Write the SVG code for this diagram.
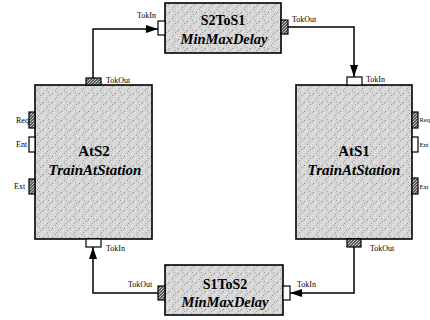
<svg xmlns="http://www.w3.org/2000/svg" width="430" height="320" viewBox="0 0 430 320">
<defs>
<pattern id="tex" width="9" height="9" patternUnits="userSpaceOnUse">
<rect width="9" height="9" fill="#d6d6d6"/>
<rect x="1" y="0" width="1" height="1" fill="#9a9a9a"/>
<rect x="5" y="1" width="1" height="1" fill="#f2f2f2"/>
<rect x="3" y="2" width="1" height="1" fill="#a4a4a4"/>
<rect x="7" y="3" width="1" height="1" fill="#8e8e8e"/>
<rect x="0" y="4" width="1" height="1" fill="#f4f4f4"/>
<rect x="4" y="5" width="1" height="1" fill="#9c9c9c"/>
<rect x="8" y="6" width="1" height="1" fill="#f0f0f0"/>
<rect x="2" y="7" width="1" height="1" fill="#a0a0a0"/>
<rect x="6" y="8" width="1" height="1" fill="#ececec"/>
<rect x="6" y="4" width="1" height="1" fill="#b0b0b0"/>
</pattern>
<pattern id="hatch" width="3" height="3" patternUnits="userSpaceOnUse">
<rect width="3" height="3" fill="#5a5a5a"/>
<rect x="0" y="0" width="1" height="1" fill="#cfcfcf"/>
<rect x="2" y="1" width="1" height="1" fill="#cfcfcf"/>
<rect x="1" y="2" width="1" height="1" fill="#bdbdbd"/>
</pattern>
<marker id="arr" viewBox="0 0 12 8" refX="12" refY="4" markerWidth="12" markerHeight="8" markerUnits="userSpaceOnUse" orient="auto">
<path d="M0,0 L12,4 L0,8 Z" fill="#000"/>
</marker>
<style>
.box{fill:url(#tex);stroke:#000;stroke-width:1.6}
.pin{fill:#fff;stroke:#000;stroke-width:1.2}
.pout{fill:url(#hatch);stroke:#000;stroke-width:1.2}
.lbl{font-family:"Liberation Serif","Times New Roman",serif;font-size:8px;fill:#000}
.edge{font-size:6.5px}
.t1{font-family:"Liberation Serif","Times New Roman",serif;font-weight:bold;font-size:15px;fill:#000;text-anchor:middle}
.t2{font-family:"Liberation Serif","Times New Roman",serif;font-weight:bold;font-style:italic;font-size:15px;fill:#000;text-anchor:middle}
.s1{font-family:"Liberation Serif","Times New Roman",serif;font-weight:bold;font-size:14px;fill:#000;text-anchor:middle}
.s2{font-family:"Liberation Serif","Times New Roman",serif;font-weight:bold;font-style:italic;font-size:14.5px;fill:#000;text-anchor:middle}
.con{fill:none;stroke:#000;stroke-width:1.5;marker-end:url(#arr)}
</style>
</defs>
<g id="connectors">
<path class="con" d="M93,78 L93,29 L158,29"/>
<path class="con" d="M288,27 L354,27 L354,77"/>
<path class="con" d="M354,247 L354,293 L290,293"/>
<path class="con" d="M158,293 L93,293 L93,247"/>
</g>
<g id="S2ToS1">
<rect class="box" x="165" y="3" width="116" height="50"/>
<rect class="pin" x="158" y="21" width="7" height="14"/>
<rect class="pout" x="281" y="20" width="7" height="14"/>
<text class="s1" x="223" y="25">S2ToS1</text>
<text class="s2" x="224" y="44">MinMaxDelay</text>
<text class="lbl" x="137" y="18">TokIn</text>
<text class="lbl" x="292" y="22">TokOut</text>
</g>
<g id="S1ToS2">
<rect class="box" x="165" y="265" width="118" height="50"/>
<rect class="pout" x="158" y="286" width="7" height="14"/>
<rect class="pin" x="283" y="286" width="7" height="14"/>
<text class="s1" x="225" y="289">S1ToS2</text>
<text class="s2" x="225" y="307">MinMaxDelay</text>
<text class="lbl" x="128" y="287">TokOut</text>
<text class="lbl" x="297" y="287">TokIn</text>
</g>
<g id="AtS2">
<rect class="box" x="35" y="85" width="117" height="154"/>
<rect class="pout" x="86" y="78" width="15" height="7"/>
<rect class="pout" x="29" y="112" width="6" height="16"/>
<rect class="pin" x="29" y="137" width="6" height="15"/>
<rect class="pout" x="29" y="179" width="6" height="15"/>
<rect class="pin" x="86" y="239" width="15" height="8"/>
<text class="t1" x="94" y="156">AtS2</text>
<text class="t2" x="95" y="175">TrainAtStation</text>
<text class="lbl" x="106" y="83">TokOut</text>
<text class="lbl" x="16" y="123">Req</text>
<text class="lbl" x="16" y="147">Ent</text>
<text class="lbl" x="14" y="189">Ext</text>
<text class="lbl" x="106" y="251">TokIn</text>
</g>
<g id="AtS1">
<rect class="box" x="296" y="85" width="116" height="154"/>
<rect class="pin" x="347" y="77" width="15" height="8"/>
<rect class="pout" x="412" y="112" width="6" height="16"/>
<rect class="pin" x="412" y="137" width="6" height="15"/>
<rect class="pout" x="412" y="178" width="6" height="16"/>
<rect class="pout" x="347" y="239" width="14" height="8"/>
<text class="t1" x="354" y="156">AtS1</text>
<text class="t2" x="354" y="175">TrainAtStation</text>
<text class="lbl" x="366" y="82">TokIn</text>
<text class="lbl edge" x="419.5" y="122">Req</text>
<text class="lbl edge" x="419.5" y="147">Ent</text>
<text class="lbl edge" x="419.5" y="189">Ext</text>
<text class="lbl" x="370" y="251">TokOut</text>
</g>
</svg>
